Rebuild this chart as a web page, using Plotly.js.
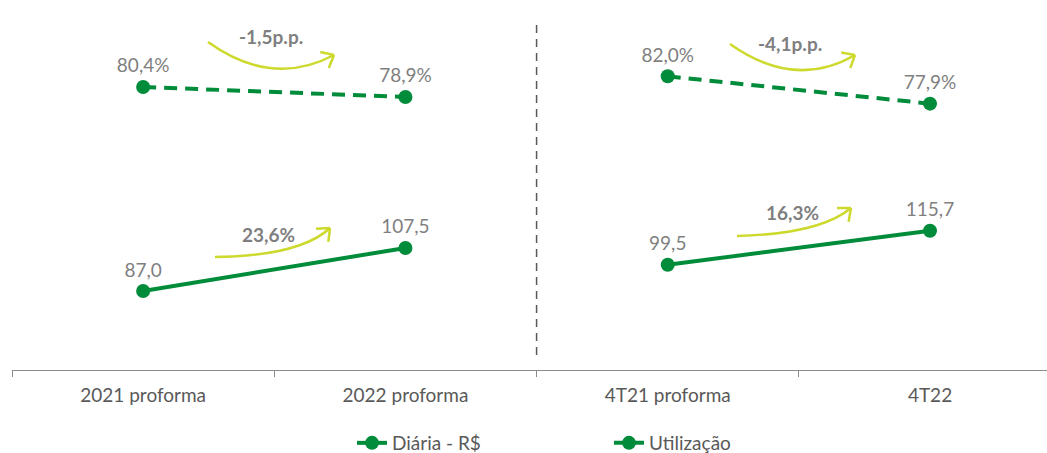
<!DOCTYPE html>
<html><head><meta charset="utf-8">
<script src="https://cdn.plot.ly/plotly-3.0.1.min.js"></script>
<style>body{margin:0;background:#fff}#c{width:1047px;height:453px}</style>
</head><body><div id="c"></div>
<script>
const categories = ["2021 proforma","2022 proforma","4T21 proforma","4T22"];
const diariaLeft = [87.0, 107.5];
const diariaRight = [99.5, 115.7];
const utilLeft = [80.4, 78.9];
const utilRight = [82.0, 77.9];
const changeLabels = ["-1,5p.p.", "23,6%", "-4,1p.p.", "16,3%"];

const GREEN = "#008C3A", ARROW = "#CDD92C", LABEL = "#7F7F7F";
const FONT = "Lato, sans-serif";
const W = 1047, H = 453, ML = 12, MR = 0, MT = 10, MB = 83;
const PW = W - ML - MR, PH = H - MT - MB;
const px = x => (x - ML) / PW, py = y => (H - MB - y) / PH;

function mk(x, y, axis, name, dash, show, fmt) {
  return {x, y, yaxis: axis, name, type: "scatter", mode: "lines+markers+text",
    legend: name === "Utilização" ? "legend2" : "legend",
    legendgroup: name, showlegend: show, hoverinfo: "skip",
    line: {color: GREEN, width: 4, dash},
    marker: {color: GREEN, size: 14},
    texttemplate: fmt, textposition: "top center",
    textfont: {family: FONT, size: 19, color: LABEL}, cliponaxis: false};
}
const data = [
  mk(categories.slice(0,2), diariaLeft, "y", "Diária - R$", "solid", true, "%{y:.1f}"),
  mk(categories.slice(2,4), diariaRight, "y", "Diária - R$", "solid", false, "%{y:.1f}"),
  mk(categories.slice(0,2), utilLeft, "y2", "Utilização", "13px,8px", true, "%{y:.1f}%"),
  mk(categories.slice(2,4), utilRight, "y2", "Utilização", "13px,8px", false, "%{y:.1f}%"),
];

// curved arrow decorations (pixel coordinates of start, control, end)
const arrows = [
  {s:[208,42], c:[272,88], e:[334,55], lab:[271,37]},
  {s:[215,257], c:[300,256], e:[330,228], lab:[268,234]},
  {s:[730,44], c:[795,90], e:[855,55], lab:[790,43]},
  {s:[737,236], c:[820,234], e:[851,208], lab:[792,212]},
];
const shapes = [{type:"line", xref:"x", yref:"paper", x0:1.5, x1:1.5, y0:py(355), y1:py(22),
  line:{color:"#595959", width:1.5, dash:"8px,6px"}}];
const annotations = [];
arrows.forEach((a, i) => {
  shapes.push({type:"path", xref:"paper", yref:"paper",
    path:`M${px(a.s[0])},${py(a.s[1])} Q${px(a.c[0])},${py(a.c[1])} ${px(a.e[0])},${py(a.e[1])}`,
    line:{color:ARROW, width:2.5}});
  const dx = a.e[0]-a.c[0], dy = a.e[1]-a.c[1], L = Math.hypot(dx,dy);
  const ux = dx/L, uy = dy/L, len = 14;
  [0.7, -0.7].forEach(ang => {
    const cs = Math.cos(Math.PI - ang), sn = Math.sin(Math.PI - ang);
    const wx = a.e[0] + len*(ux*cs - uy*sn), wy = a.e[1] + len*(ux*sn + uy*cs);
    shapes.push({type:"line", xref:"paper", yref:"paper", x0:px(a.e[0]), y0:py(a.e[1]), x1:px(wx), y1:py(wy),
      line:{color:ARROW, width:2.5}});
  });
  annotations.push({xref:"paper", yref:"paper", x:px(a.lab[0]), y:py(a.lab[1]), xanchor:"center", yanchor:"middle",
    text:"<b>"+changeLabels[i]+"</b>",
    showarrow:false, font:{family:FONT, size:19, color:LABEL}});
});

const layout = {
  width: W, height: H, margin: {l: ML, r: MR, t: MT, b: MB, autoexpand: false},
  paper_bgcolor: "#fff", plot_bgcolor: "#fff", separators: ",.",
  font: {family: FONT},
  xaxis: {type: "category", categoryarray: categories, range: [-0.5, 3.446], showgrid: false,
    showline: true, linecolor: "#8C8C8C", linewidth: 1, ticks: "outside", tickson: "boundaries",
    ticklen: 6, tickcolor: "#8C8C8C", ticklabelstandoff: 8, automargin: false,
    tickfont: {family: FONT, size: 19, color: "#595959"}, zeroline: false, fixedrange: true},
  yaxis: {range: [49.4, 220.8], visible: false, showgrid: false, zeroline: false},
  yaxis2: {range: [37.97, 91.94], overlaying: "y", visible: false, showgrid: false, zeroline: false},
  legend: {orientation: "h", x: px(352), y: py(443), xanchor: "left", yanchor: "middle",
    font: {family: FONT, size: 19, color: "#595959"}, bgcolor: "rgba(0,0,0,0)"},
  legend2: {orientation: "h", x: px(609), y: py(443), xanchor: "left", yanchor: "middle",
    font: {family: FONT, size: 19, color: "#595959"}, bgcolor: "rgba(0,0,0,0)"},
  shapes, annotations, showlegend: true
};
Plotly.newPlot("c", data, layout, {displayModeBar: false, staticPlot: true});
</script></body></html>
